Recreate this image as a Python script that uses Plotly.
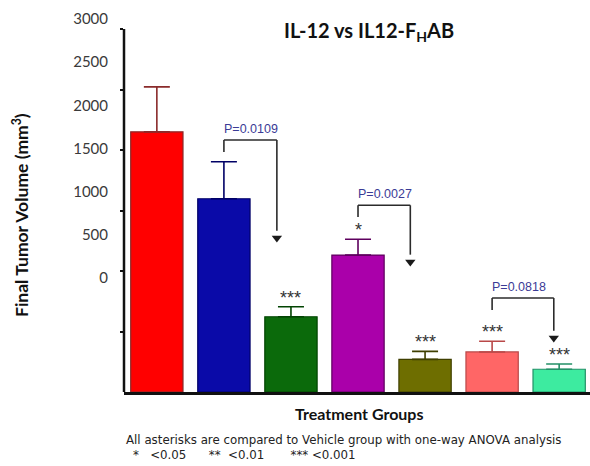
import plotly.graph_objects as go

# ---------------- data ----------------
groups = ["Vehicle", "IL-12 low", "IL12-FHAB low", "IL-12 mid", "IL12-FHAB mid", "IL-12 high", "IL12-FHAB high"]
volumes = [2150, 1597, 622, 1132, 270, 331, 188]
errors = [372, 306, 83, 130, 66, 88, 44]
significance = ["", "", "***", "*", "***", "***", "***"]
bar_colors = ["#FF0000", "#0A0AA8", "#0B6A0B", "#AA00AA", "#6E6E00", "#FF6666", "#3DEBA0"]
edge_colors = ["#8A2B2B", "#000066", "#024402", "#5E005E", "#3F3F00", "#B94848", "#239067"]

ytick_vals = [0, 500, 1000, 1500, 2000, 2500, 3000]
ytick_text = ["0", "500", "1000", "1500", "2000", "2500", "3000"]

# comparison brackets: (left group idx, right x position, top, left bottom, arrow tip, label)
bracket_left = [1, 3, 5]
bracket_right = [1.79, 3.78, 5.92]
bracket_top = [2083, 1543, 777]
bracket_left_bottom = [1983, 1447, 678]
bracket_tip = [1273, 1075, 446]
bracket_labels = ["P=0.0109", "P=0.0027", "P=0.0818"]

# ---------------- geometry (pixels) ----------------
W, H = 590, 466
L, R, T, B = 124, 0, 12, 74
plot_w = W - L - R
plot_h = H - T - B
ymax = 3000 * plot_h / (392 - 29)          # 3000 sits at pixel 29
# mis-registered tick label axis: 0 at pixel 278, 3000 at pixel 19
per = (278 - 19) / 3000.0
y2_lo = -(392 - 278) / per
y2_hi = 3000 + (19 - T) / per


def px_x(px):
    return (px - L) / plot_w


def px_y(py):
    return (H - B - py) / plot_h


fig = go.Figure()

for i, g in enumerate(groups):
    fig.add_trace(go.Bar(
        x=[i], y=[volumes[i]], width=0.78,
        marker=dict(color=bar_colors[i], line=dict(color=edge_colors[i], width=1.2)),
        error_y=dict(type="data", array=[errors[i]], arrayminus=[0], symmetric=False,
                     color=edge_colors[i], thickness=1.6, width=13),
        showlegend=False, name=g, hoverinfo="skip",
    ))

# invisible trace to activate label axis
fig.add_trace(go.Scatter(x=[None], y=[None], yaxis="y2", showlegend=False, hoverinfo="skip"))

annotations = []
for i, s in enumerate(significance):
    if s:
        annotations.append(dict(x=i, y=volumes[i] + errors[i], xref="x", yref="y", text=s,
                                showarrow=False, yanchor="bottom", yshift=-3,
                                font=dict(family="Liberation Sans", size=18, color="#333333")))

shapes = []
for l, r, top, lb, tip, lab in zip(bracket_left, bracket_right, bracket_top,
                                   bracket_left_bottom, bracket_tip, bracket_labels):
    lc = dict(color="#2b2b2b", width=1.6)
    shapes.append(dict(type="line", xref="x", yref="y", x0=l, x1=l, y0=lb, y1=top, line=lc))
    shapes.append(dict(type="line", xref="x", yref="y", x0=l, x1=r, y0=top, y1=top, line=lc))
    shapes.append(dict(type="line", xref="x", yref="y", x0=r, x1=r, y0=top, y1=tip + 60, line=lc))
    fig.add_trace(go.Scatter(x=[r], y=[tip], mode="markers",
                             marker=dict(symbol="triangle-down", size=9, color="#1a1a1a"),
                             showlegend=False, hoverinfo="skip"))
    annotations.append(dict(x=l, y=top, xref="x", yref="y", text=lab,
                            showarrow=False, xanchor="left", yanchor="bottom", yshift=2, xshift=-2,
                            font=dict(family="Liberation Sans Narrow, Liberation Sans", size=12.5,
                                      color="#3b3b96")))

# left axis line (0 to 3000)
shapes.append(dict(type="line", xref="paper", yref="y", x0=0, x1=0, y0=0, y1=3000,
                   line=dict(color="#111111", width=2.5)))

annotations += [
    dict(text="<b>IL-12 vs IL12-F<sub>H</sub>AB</b>", x=px_x(369), y=px_y(31), xref="paper", yref="paper",
         showarrow=False, xanchor="center", yanchor="middle",
         font=dict(family="Lato", size=20, color="#111111")),
    dict(text="<b>Final Tumor Volume (mm<sup>3</sup>)</b>", x=px_x(20), y=px_y(215), xref="paper",
         yref="paper", showarrow=False, textangle=-90, xanchor="center", yanchor="middle",
         font=dict(family="Lato", size=17.5, color="#111111")),
    dict(text="<b>Treatment Groups</b>", x=px_x(359), y=px_y(413), xref="paper", yref="paper",
         showarrow=False, xanchor="center", yanchor="middle",
         font=dict(family="Lato", size=16, color="#111111")),
    dict(text="All asterisks are compared to Vehicle group with one-way ANOVA analysis",
         x=px_x(124), y=px_y(440), xref="paper", yref="paper", showarrow=False,
         xanchor="left", yanchor="middle", font=dict(family="DejaVu Sans", size=11.8, color="#222222")),
    dict(text="*   <0.05      **  <0.01       *** <0.001",
         x=px_x(131), y=px_y(455), xref="paper", yref="paper", showarrow=False,
         xanchor="left", yanchor="middle", font=dict(family="DejaVu Sans", size=11.8, color="#222222")),
]

fig.update_layout(
    width=W, height=H, margin=dict(l=L, r=R, t=T, b=B, autoexpand=False),
    paper_bgcolor="white", plot_bgcolor="white",
    bargap=0.22, barmode="overlay",
    xaxis=dict(range=[-0.49, 6.46], showticklabels=False, ticks="", showgrid=False,
               zeroline=False, showline=True, linecolor="#111111", linewidth=3),
    yaxis=dict(range=[0, ymax], tickvals=[500, 1000, 1500, 2000, 2500, 3000], ticks="outside",
               ticklen=3, tickwidth=1.5, tickcolor="#111111", showticklabels=False,
               showgrid=False, zeroline=False, showline=False),
    yaxis2=dict(overlaying="y", side="left", range=[y2_lo, y2_hi], tickvals=ytick_vals,
                ticktext=ytick_text, ticks="", showgrid=False, zeroline=False, showline=False,
                ticklabelstandoff=15,
                tickfont=dict(family="Lato", size=15, color="#3a3a3a")),
    shapes=shapes, annotations=annotations,
)

fig.write_html("out.html")
